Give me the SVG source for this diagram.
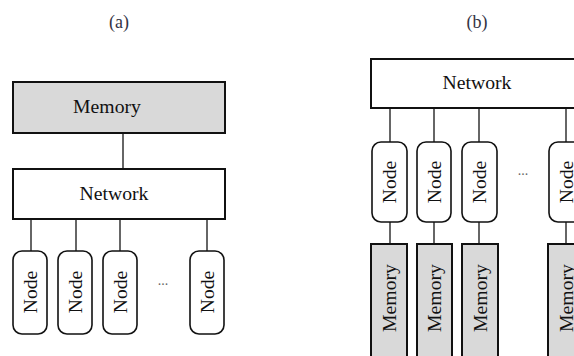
<svg xmlns="http://www.w3.org/2000/svg" width="574" height="356" viewBox="0 0 574 356">
<style>
.box{fill:#fff;stroke:#111;stroke-width:2}
.mem{fill:#d9d9d9;stroke:#111;stroke-width:2}
.node{fill:#fff;stroke:#111;stroke-width:1.6}
.conn line{stroke:#333;stroke-width:1.5}
text{font-family:"Liberation Serif","Times New Roman",serif;font-size:19.7px;fill:#111;text-anchor:middle}
.cap{fill:#334;font-size:18px}
.dots{font-size:14px;fill:#666}
</style>
<rect width="574" height="356" fill="#fff"/>
<text class="cap" x="119" y="28">(a)</text>
<text class="cap" x="477" y="28">(b)</text>
<g id="conn" class="conn">
<line x1="123" y1="133" x2="123" y2="169"/>
<line x1="31" y1="219" x2="31" y2="251"/>
<line x1="76" y1="219" x2="76" y2="251"/>
<line x1="120" y1="219" x2="120" y2="251"/>
<line x1="207" y1="219" x2="207" y2="251"/>
<line x1="390" y1="108" x2="390" y2="142"/>
<line x1="434" y1="108" x2="434" y2="142"/>
<line x1="479" y1="108" x2="479" y2="142"/>
<line x1="566" y1="108" x2="566" y2="142"/>
<line x1="390" y1="222" x2="390" y2="244"/>
<line x1="434" y1="222" x2="434" y2="244"/>
<line x1="479" y1="222" x2="479" y2="244"/>
<line x1="566" y1="222" x2="566" y2="244"/>
</g>
<g id="a-memory"><rect class="mem" x="13" y="82" width="212" height="51"/><text x="107" y="113">Memory</text></g>
<g id="a-network"><rect class="box" x="13" y="169" width="212" height="50"/><text x="114" y="200">Network</text></g>
<g id="a-node1"><rect class="node" x="13" y="251" width="34" height="83" rx="9" ry="9"/><text transform="translate(30,292) rotate(-90)" dy="0.35em">Node</text></g>
<g id="a-node2"><rect class="node" x="58" y="251" width="34" height="83" rx="9" ry="9"/><text transform="translate(75,292) rotate(-90)" dy="0.35em">Node</text></g>
<g id="a-node3"><rect class="node" x="103" y="251" width="34" height="83" rx="9" ry="9"/><text transform="translate(120,292) rotate(-90)" dy="0.35em">Node</text></g>
<g id="a-node4"><rect class="node" x="190" y="251" width="34" height="83" rx="9" ry="9"/><text transform="translate(207,292) rotate(-90)" dy="0.35em">Node</text></g>
<text class="dots" x="163" y="285">...</text>
<g id="b-network"><rect class="box" x="371" y="59" width="212" height="49"/><text x="477" y="89">Network</text></g>
<g id="b-node1"><rect class="node" x="372" y="142" width="35" height="80" rx="9" ry="9"/><text transform="translate(389.5,182) rotate(-90)" dy="0.35em">Node</text></g>
<g id="b-node2"><rect class="node" x="417" y="142" width="34" height="80" rx="9" ry="9"/><text transform="translate(434,182) rotate(-90)" dy="0.35em">Node</text></g>
<g id="b-node3"><rect class="node" x="462" y="142" width="35" height="80" rx="9" ry="9"/><text transform="translate(479.5,182) rotate(-90)" dy="0.35em">Node</text></g>
<g id="b-node4"><rect class="node" x="549" y="142" width="35" height="80" rx="9" ry="9"/><text transform="translate(566.5,182) rotate(-90)" dy="0.35em">Node</text></g>
<text class="dots" x="523" y="175">...</text>
<g id="b-mem1"><rect class="mem" x="371" y="244" width="36" height="130"/><text transform="translate(389,298) rotate(-90)" dy="0.35em">Memory</text></g>
<g id="b-mem2"><rect class="mem" x="417" y="244" width="35" height="130"/><text transform="translate(434.5,298) rotate(-90)" dy="0.35em">Memory</text></g>
<g id="b-mem3"><rect class="mem" x="462" y="244" width="36" height="130"/><text transform="translate(480,298) rotate(-90)" dy="0.35em">Memory</text></g>
<g id="b-mem4"><rect class="mem" x="548" y="244" width="36" height="130"/><text transform="translate(566,298) rotate(-90)" dy="0.35em">Memory</text></g>
</svg>
